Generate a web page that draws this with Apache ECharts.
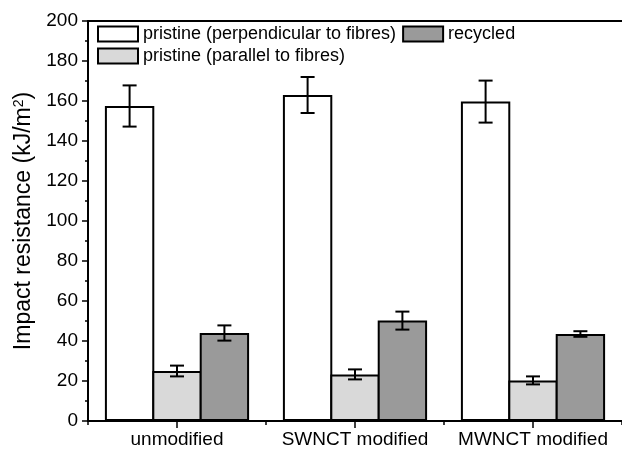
<!DOCTYPE html>
<html>
<head>
<meta charset="utf-8">
<script src="https://cdn.jsdelivr.net/npm/echarts@6/dist/echarts.min.js"></script>
<style>
  html, body { margin: 0; padding: 0; background: #fff; }
  #chart { width: 622px; height: 451px; }
</style>
</head>
<body>
<div id="chart"></div>
<script>
var categories = ['unmodified', 'SWNCT modified', 'MWNCT modified'];
var seriesNames = ['pristine (perpendicular to fibres)', 'pristine (parallel to fibres)', 'recycled'];
var perpValues = [157.5, 163, 159.7];
var perpErrors = [10.3, 9, 10.5];
var paraValues = [25, 23.3, 20.3];
var paraErrors = [2.7, 2.5, 2];
var recValues = [44, 50.2, 43.5];
var recErrors = [3.8, 4.5, 1.4];
var yTicks = [0, 200, 20];

var barColors = ['#ffffff', '#d9d9d9', '#9a9a9a'];
var catGap = 0.19;
var barGap = -0.04;
var font = 'Liberation Sans, Arial, sans-serif';

// error bar data: [category index, low, high]
function errData(vals, errs) {
	var out = [];
	for (var i = 0; i < vals.length; i++) {
		out.push([i, vals[i] - errs[i], vals[i] + errs[i]]);
	}
	return out;
}

function errorItem(k) {
	return function (params, api) {
		var x = api.value(0);
		var lo = api.coord([x, api.value(1)]);
		var hi = api.coord([x, api.value(2)]);
		var band = api.size([1, 0])[0];
		var bw = band * (1 - catGap) / (3 + 2 * barGap);
		var cx = lo[0] + (k - 1) * bw * (1 + barGap);
		var half = 7;
		var st = { stroke: '#000', lineWidth: 2 };
		return {
			type: 'group',
			children: [
				{ type: 'line', shape: { x1: cx, y1: hi[1], x2: cx, y2: lo[1] }, style: st },
				{ type: 'line', shape: { x1: cx - half, y1: hi[1], x2: cx + half, y2: hi[1] }, style: st },
				{ type: 'line', shape: { x1: cx - half, y1: lo[1], x2: cx + half, y2: lo[1] }, style: st }
			]
		};
	};
}

function barSeries(name, vals, color) {
	return {
		name: name,
		type: 'bar',
		xAxisIndex: 0,
		data: vals,
		barGap: (barGap * 100) + '%',
		barCategoryGap: (catGap * 100) + '%',
		itemStyle: { color: color, borderColor: '#000', borderWidth: 2 },
		emphasis: { disabled: true }
	};
}

function errSeries(k, vals, errs) {
	return {
		type: 'custom',
		xAxisIndex: 0,
		renderItem: errorItem(k),
		data: errData(vals, errs),
		z: 10,
		silent: true
	};
}

var legendText = { fontSize: 18, color: '#000', fontFamily: font };

var chart = echarts.init(document.getElementById('chart'));
var option = {
	animation: false,
	backgroundColor: '#fff',
	textStyle: { fontFamily: font },
	grid: { left: 88, top: 21, width: 535, height: 400 },
	legend: [{
		data: [seriesNames[0], seriesNames[2]],
		left: 97, top: 25, padding: 0,
		itemWidth: 40, itemHeight: 15, itemGap: 6,
		icon: 'rect',
		textStyle: legendText
	}, {
		data: [seriesNames[1]],
		left: 97, top: 47, padding: 0,
		itemWidth: 40, itemHeight: 15,
		icon: 'rect',
		textStyle: legendText
	}],
	xAxis: [{
		type: 'category',
		position: 'bottom',
		data: categories,
		axisLine: { lineStyle: { color: '#000', width: 2 } },
		axisTick: { show: true, alignWithLabel: false, length: 4, lineStyle: { color: '#000', width: 1.5 } },
		axisLabel: { fontSize: 19, color: '#000', margin: 9, interval: 0 },
		splitLine: { show: false }
	}, {
		type: 'category',
		position: 'bottom',
		data: categories,
		axisLine: { show: false },
		axisTick: { show: true, alignWithLabel: true, length: 7, lineStyle: { color: '#000', width: 1.5 } },
		axisLabel: { show: false },
		splitLine: { show: false }
	}, {
		type: 'category',
		position: 'top',
		data: categories,
		axisLine: { lineStyle: { color: '#000', width: 2 } },
		axisTick: { show: false },
		axisLabel: { show: false },
		splitLine: { show: false }
	}],
	yAxis: {
		type: 'value',
		min: yTicks[0], max: yTicks[1], interval: yTicks[2],
		name: 'Impact resistance (kJ/m{sup|2})',
		nameLocation: 'middle',
		nameGap: 50,
		nameTextStyle: {
			fontSize: 23, color: '#000', fontFamily: font,
			rich: { sup: { fontSize: 14, verticalAlign: 'top', padding: [0, 0, 10, 0], color: '#000' } }
		},
		axisLine: { show: true, lineStyle: { color: '#000', width: 2 } },
		axisTick: { show: true, length: 6, lineStyle: { color: '#000', width: 1.5 } },
		minorTick: { show: true, splitNumber: 2, length: 3, lineStyle: { color: '#000', width: 1.5 } },
		axisLabel: { fontSize: 19, color: '#000', margin: 10 },
		splitLine: { show: false }
	},
	series: [
		barSeries(seriesNames[0], perpValues, barColors[0]),
		barSeries(seriesNames[1], paraValues, barColors[1]),
		barSeries(seriesNames[2], recValues, barColors[2]),
		errSeries(0, perpValues, perpErrors),
		errSeries(1, paraValues, paraErrors),
		errSeries(2, recValues, recErrors)
	]
};
chart.setOption(option);
</script>
</body>
</html>
